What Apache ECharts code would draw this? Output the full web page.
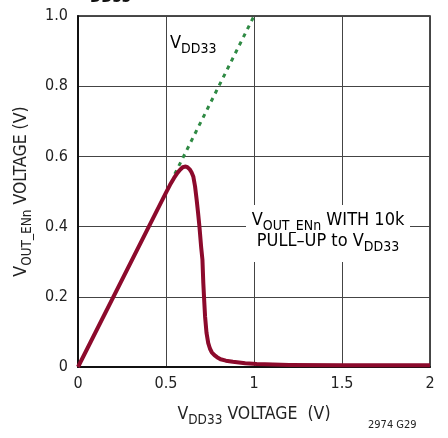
<!DOCTYPE html>
<html><head><meta charset="utf-8">
<script src="https://cdn.jsdelivr.net/npm/echarts@6/dist/echarts.min.js"></script>
<style>html,body{margin:0;padding:0;background:#fff}#c{width:448px;height:438px}</style>
</head><body><div id="c"></div>
<script>
var FONT = '"Liberation Sans Narrow","DejaVu Sans Condensed",Arial,sans-serif';
var xTicks = [0, 0.5, 1, 1.5, 2];
var yTicks = [0, 0.2, 0.4, 0.6, 0.8, 1.0];
var outX = [0,0.5,0.523,0.545,0.565,0.58,0.595,0.608,0.62,0.635,0.645,0.655,0.665,0.674,0.682,0.69,0.70,0.707,0.712,0.717,0.722,0.73,0.74,0.75,0.76,0.775,0.79,0.81,0.84,0.88,0.95,1.015,1.2,1.5,2.0];
var outY = [0,0.497,0.519,0.538,0.553,0.562,0.569,0.571,0.57,0.563,0.555,0.543,0.515,0.477,0.44,0.40,0.34,0.306,0.239,0.19,0.144,0.098,0.068,0.052,0.042,0.034,0.028,0.022,0.018,0.015,0.011,0.0085,0.006,0.005,0.005];
var vddX = [0.55, 1.0];
var vddY = [0.55, 1.0];

var chart = echarts.init(document.getElementById('c'), null, {renderer:'canvas'});
function pairs(a,b){return a.map(function(v,i){return [v,b[i]];});}
var rich = {
  v:{fontFamily:FONT,fontSize:18,color:'#222',lineHeight:22,verticalAlign:'bottom'},
  s:{fontFamily:FONT,fontSize:14,color:'#222',lineHeight:16,verticalAlign:'bottom',padding:[0,0,-4,0]}
};
var richAx = {
  v:{fontFamily:FONT,fontSize:17.5,color:'#222',lineHeight:22,verticalAlign:'bottom'},
  s:{fontFamily:FONT,fontSize:13.5,color:'#222',lineHeight:16,verticalAlign:'bottom',padding:[0,0,-4,0]}
};
chart.setOption({
  animation:false,
  grid:{left:78,right:18,top:16,bottom:71,show:true,borderColor:'#111',borderWidth:1.5},
  xAxis:{type:'value',min:0,max:2,interval:0.5,
    axisLine:{show:true,lineStyle:{color:'#111',width:2}},
    axisTick:{show:false},
    splitLine:{show:true,lineStyle:{color:'#444',width:1}},
    axisLabel:{fontFamily:FONT,fontSize:16,color:'#222',margin:9,
      formatter:function(v){return String(v);}},
    name:'{v|V}{s|DD33}{v| VOLTAGE  (V)}',nameLocation:'middle',nameGap:34,
    nameTextStyle:{rich:richAx}
  },
  yAxis:{type:'value',min:0,max:1,interval:0.2,
    axisLine:{show:true,lineStyle:{color:'#111',width:2}},
    axisTick:{show:false},
    splitLine:{show:true,lineStyle:{color:'#444',width:1}},
    axisLabel:{fontFamily:FONT,fontSize:16,color:'#222',margin:10,
      formatter:function(v){return v===0?'0':v.toFixed(1);}},
    name:'{v|V}{s|OUT_ENn}{v| VOLTAGE (V)}',nameLocation:'middle',nameGap:42,
    nameTextStyle:{rich:richAx}
  },
  series:[
    {type:'line',data:pairs(vddX,vddY),symbol:'none',
     lineStyle:{color:'#2f8a44',width:3,type:[4,5]},z:2},
    {type:'line',data:pairs(outX,outY),symbol:'none',
     lineStyle:{color:'#8c0a2c',width:4,join:'round'},z:3}
  ],
  graphic:[
    {type:'text',left:170,top:34,style:{text:'{v|V}{s|DD33}',rich:rich}},
    {type:'rect',shape:{x:246,y:205,width:164,height:57},style:{fill:'#fff'},z:10},
    {type:'text',x:328,y:207,z:11,style:{text:'{v|V}{s|OUT_ENn}{v| WITH 10k}',rich:rich,align:'center'}},
    {type:'text',x:328,y:228,z:11,style:{text:'{v|PULL\u2013UP to V}{s|DD33}',rich:rich,align:'center'}},
    {type:'text',left:368,top:420,style:{text:'2974 G29',fontFamily:FONT,fontSize:11,fill:'#222'}},
    {type:'text',left:90,top:-9,style:{text:'DD33',fontFamily:FONT,fontSize:15,fontWeight:'bold',fill:'#111'}}
  ]
});
</script></body></html>
